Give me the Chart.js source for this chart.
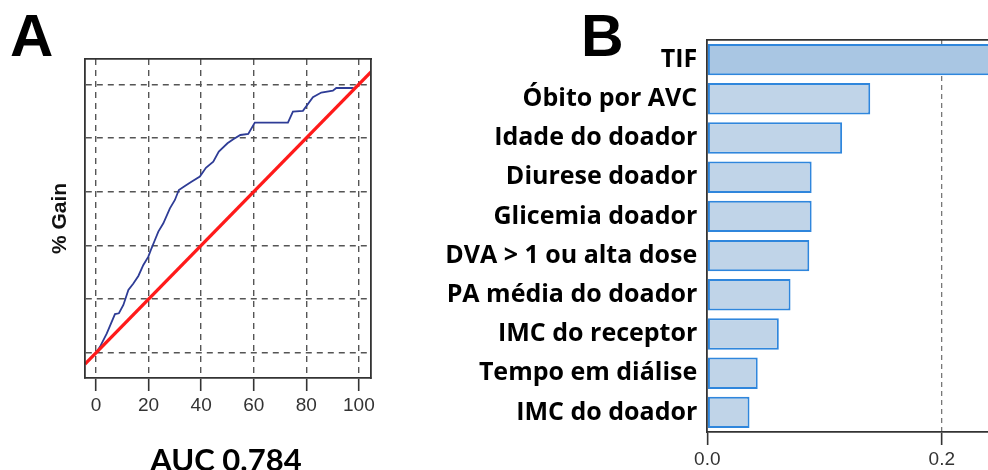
<!DOCTYPE html>
<html><head><meta charset="utf-8">
<script src="https://cdn.jsdelivr.net/npm/chart.js@4"></script>
<style>
html,body{margin:0;padding:0;width:988px;height:470px;overflow:hidden;background:#fff;}
#wrapA{position:absolute;left:0;top:0;width:400px;height:470px;}
#wrapB{position:absolute;left:400px;top:0;width:680px;height:470px;}
.lbl{position:absolute;font-family:'Liberation Sans',Arial,sans-serif;font-weight:bold;color:#000;white-space:nowrap;line-height:1;}
</style></head><body>
<div id="wrapA"><canvas id="cA" width="400" height="470"></canvas></div>
<div id="wrapB"><canvas id="cB" width="680" height="470"></canvas></div>
<div class="lbl" style="left:10px;top:6px;font-size:60px;">A</div>
<div class="lbl" style="left:581px;top:7px;font-size:59px;">B</div>
<div class="lbl" style="left:126px;width:200px;text-align:center;top:444px;font-size:31px;font-family:Lato,sans-serif;">AUC 0.784</div>
<script>
// Panel A: cumulative gain curve (% of cases vs % gain)
const gainX = [0, 1.5, 4.1, 7.2, 8.7, 10.4, 12.3, 14.2, 16.1, 18.0, 19.9, 21.1, 22.4, 23.7, 25.6, 28.1, 30.0, 31.5, 33.8, 36.3, 39.5, 41.8, 44.6, 46.7, 50.0, 52.2, 54.9, 57.9, 60.4, 73.0, 74.9, 78.7, 82.5, 85.7, 90.1, 91.4, 98.0];
const gainY = [0, 2.2, 7.2, 14.4, 14.7, 17.8, 23.4, 25.8, 28.6, 32.7, 35.8, 38.9, 42.0, 45.1, 48.2, 53.8, 56.9, 60.6, 62.1, 63.7, 65.6, 68.9, 71.2, 74.9, 78.0, 79.5, 81.1, 81.5, 85.7, 85.7, 89.8, 90.1, 95.2, 96.9, 97.6, 98.6, 98.6];
const baseX = [-4.2, 104.6];
const baseY = [-4.2, 104.6];
const gainTicks = [0, 20, 40, 60, 80, 100];

// Panel B: variable importance
const features = ['TIF', 'Óbito por AVC', 'Idade do doador', 'Diurese doador', 'Glicemia doador', 'DVA > 1 ou alta dose', 'PA média do doador', 'IMC do receptor', 'Tempo em diálise', 'IMC do doador'];
const importance = [0.285, 0.139, 0.115, 0.089, 0.089, 0.087, 0.071, 0.061, 0.043, 0.036];
const importanceTicks = [0.0, 0.2];

const tickFamily = "'Liberation Sans', Arial, sans-serif";

new Chart(document.getElementById('cA'), {
  type: 'scatter',
  data: { datasets: [
    { label: 'Baseline', data: baseX.map((x, i) => ({x, y: baseY[i]})), showLine: true,
      borderColor: '#ff1a1a', borderWidth: 3.2, pointRadius: 0, order: 0 },
    { label: 'Gain', data: gainX.map((x, i) => ({x, y: gainY[i]})), showLine: true,
      borderColor: '#2e3c96', borderWidth: 1.8, pointRadius: 0, order: 1 }
  ]},
  options: {
    responsive: false, animation: false, devicePixelRatio: 1,
    layout: { padding: { left: 0, top: 59, right: 29, bottom: 0 } },
    plugins: { legend: { display: false }, tooltip: { enabled: false } },
    scales: {
      x: { type: 'linear', position: 'bottom', min: -4.2, max: 104.6,
        afterFit: s => { s.height = 92; },
        afterBuildTicks: s => { s.ticks = gainTicks.map(v => ({value: v})); },
        ticks: { color: '#333', font: { family: tickFamily, size: 19 }, padding: 3, maxRotation: 0 },
        grid: { color: '#555', lineWidth: 1.4, tickLength: 13, tickColor: '#333', tickWidth: 1.6 },
        border: { color: '#333', width: 1.8, dash: [6, 5], z: 1 } },
      y: { type: 'linear', position: 'left', min: -9.4, max: 109.4,
        afterFit: s => { s.width = 85; },
        afterBuildTicks: s => { s.ticks = gainTicks.map(v => ({value: v})); },
        ticks: { display: false },
        grid: { color: '#555', lineWidth: 1.4, drawTicks: false },
        border: { color: '#333', width: 1.8, dash: [6, 5], z: 1 } ,
        title: { display: true, text: '% Gain', color: '#111',
          font: { family: "'Liberation Sans', Arial, sans-serif", weight: 'bold', size: 21 }, padding: { top: 48 } } },
      x2: { type: 'linear', position: 'top', min: -4.2, max: 104.6,
        afterFit: s => { s.height = 0; }, ticks: { display: false },
        grid: { display: false, drawTicks: false }, border: { color: '#333', width: 1.8, z: 1 } },
      y2: { type: 'linear', position: 'right', min: -9.4, max: 109.4,
        afterFit: s => { s.width = 0; }, ticks: { display: false },
        grid: { display: false, drawTicks: false }, border: { color: '#333', width: 1.8, z: 1 } }
    }
  }
});

new Chart(document.getElementById('cB'), {
  type: 'bar',
  data: { labels: features, datasets: [{
    data: importance,
    backgroundColor: features.map((f, i) => i === 0 ? '#a9c6e3' : '#c0d4e8'),
    borderColor: '#2f86dc', borderWidth: 2, borderSkipped: false,
    barPercentage: 1, categoryPercentage: 0.8
  }]},
  options: {
    indexAxis: 'y', responsive: false, animation: false, devicePixelRatio: 1,
    layout: { padding: { left: 0, top: 40, right: 21, bottom: 0 } },
    plugins: { legend: { display: false }, tooltip: { enabled: false } },
    scales: {
      x: { type: 'linear', position: 'bottom', min: 0, max: 0.3,
        afterFit: s => { s.height = 38; },
        afterBuildTicks: s => { s.ticks = importanceTicks.map(v => ({value: v})); },
        ticks: { callback: v => Number(v).toFixed(1), color: '#333', font: { family: tickFamily, size: 19 }, padding: 3, maxRotation: 0 },
        grid: { color: c => (c.tick && c.tick.value === 0) ? 'rgba(0,0,0,0)' : '#777',
          lineWidth: 1.3, tickLength: 13, tickColor: '#333', tickWidth: 1.6 },
        border: { color: '#333', width: 1.8, dash: [5, 4], z: 1 } },
      y: { position: 'left',
        afterFit: s => { s.width = 307.3; },
        ticks: { autoSkip: false, padding: 10, color: '#000',
          font: { family: "'Open Sans', sans-serif", weight: 'bold', size: 25 } },
        grid: { display: false, drawTicks: false },
        border: { color: '#333', width: 1.8, z: 1 } },
      x2: { type: 'linear', position: 'top', min: 0, max: 0.3,
        afterFit: s => { s.height = 0; }, ticks: { display: false },
        grid: { display: false, drawTicks: false }, border: { color: '#333', width: 1.8, z: 1 } }
    }
  }
});
</script>
</body></html>
